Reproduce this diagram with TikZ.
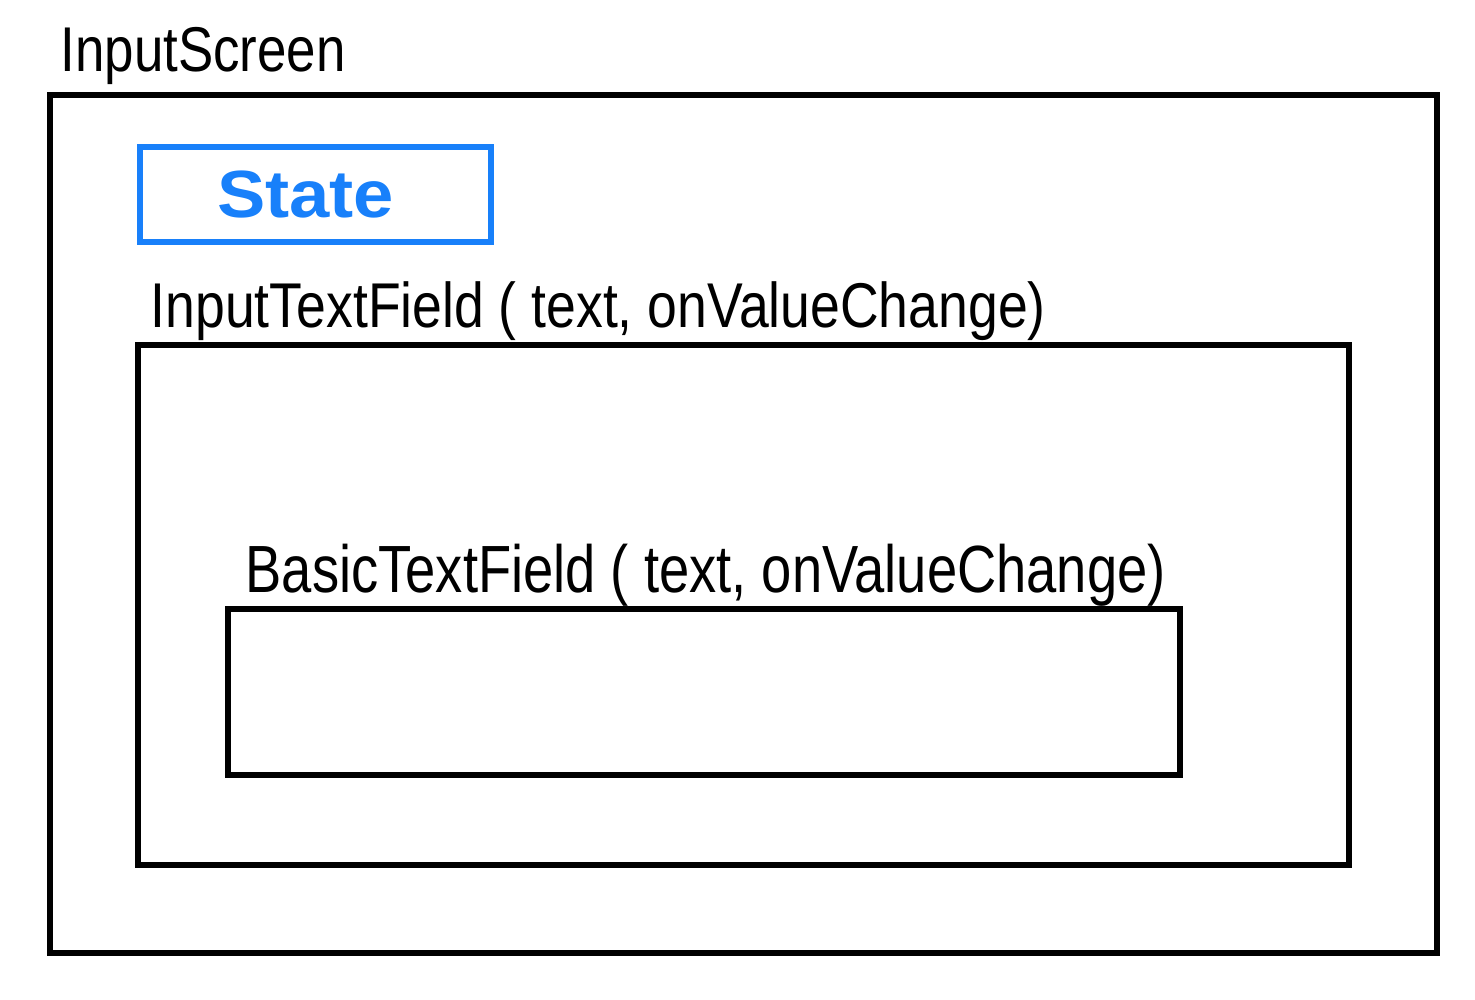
\documentclass[tikz,border=0pt]{standalone}
\usepackage{fontspec}
\setmainfont{Liberation Sans}
\usepackage{graphicx}
\definecolor{stateblue}{RGB}{24,128,250}
\tikzset{
  frame/.style={draw=black, line width=1.45pt, rectangle, inner sep=0pt},
  lbl/.style={anchor=base west, inner sep=0pt, font=\fontsize{18}{20}\selectfont},
}
\begin{document}
\begin{tikzpicture}
\useasboundingbox (0,0) rectangle (14.75,10);
% boxes
\node[frame, minimum width=13.87cm, minimum height=8.58cm] (screen) at (7.435,4.76) {};
\node[frame, draw=stateblue, minimum width=3.51cm, minimum height=0.95cm] (state) at (3.155,8.055) {};
\node[frame, minimum width=12.11cm, minimum height=5.20cm] (itf) at (7.435,3.95) {};
\node[frame, minimum width=9.52cm, minimum height=1.66cm] (btf) at (7.04,3.08) {};
% texts
\node[text=stateblue, inner sep=0pt, font=\fontsize{19}{21}\selectfont\bfseries] (statetxt) at ([xshift=-0.1cm]state.center) {\resizebox{1.77cm}{\height}{State}};
\node[lbl] (screenlbl) at (0.60,9.28) {\resizebox{2.85cm}{\height}{InputScreen}};
\node[lbl] (itflbl) at (1.50,6.72) {\resizebox{8.95cm}{\height}{InputTextField ( text,  onValueChange)}};
\node[lbl, font=\fontsize{19}{21}\selectfont] (btflbl) at (2.45,4.07) {\resizebox{9.20cm}{\height}{BasicTextField ( text,  onValueChange)}};
\end{tikzpicture}
\end{document}
